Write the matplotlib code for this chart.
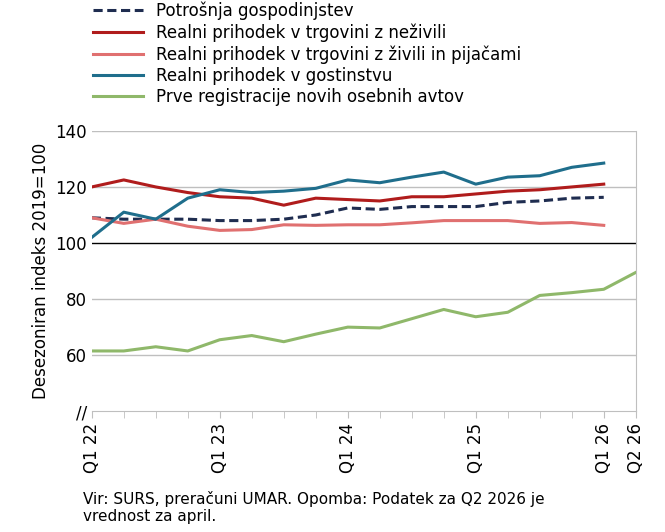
import matplotlib
matplotlib.use("Agg")
import matplotlib.pyplot as plt

quarters = list(range(18))
tick_pos = [0, 4, 8, 12, 16, 17]
tick_labels = ["Q1 22", "Q1 23", "Q1 24", "Q1 25", "Q1 26", "Q2 26"]

potrosnja = [109, 108.5, 108.5, 108.5, 108, 108, 108.5, 110, 112.5, 112, 113, 113, 113, 114.5, 115, 116, 116.3]
nezivili = [120, 122.5, 120, 118, 116.5, 116, 113.5, 116, 115.5, 115, 116.5, 116.5, 117.5, 118.5, 119, 120, 121]
zivili = [109, 107, 108.5, 106, 104.5, 104.8, 106.5, 106.3, 106.5, 106.5, 107.2, 108, 108, 108, 107, 107.3, 106.3]
gostinstvo = [102, 111, 108.5, 116, 119, 118, 118.5, 119.5, 122.5, 121.5, 123.5, 125.3, 121, 123.5, 124, 127, 128.5]
avti = [61.5, 61.5, 63, 61.5, 65.5, 67, 64.8, 67.5, 70, 69.7, 73, 76.3, 73.7, 75.3, 81.3, 82.3, 83.5, 89.5]

fig = plt.figure(figsize=(6.65, 5.32), dpi=100)
ax = fig.add_axes([0.138, 0.227, 0.818, 0.527])
for y in [60, 80, 120, 140]:
    ax.axhline(y, color="#bfbfbf", lw=1, zorder=0)
ax.axhline(100, color="black", lw=1, zorder=1)

l1, = ax.plot(quarters[:17], potrosnja, color="#1f2d50", lw=2.2, ls=(0, (3, 1.5)))
l2, = ax.plot(quarters[:17], nezivili, color="#b01c1c", lw=2.2)
l3, = ax.plot(quarters[:17], zivili, color="#e07070", lw=2.2)
l4, = ax.plot(quarters[:17], gostinstvo, color="#1f6e8c", lw=2.2)
l5, = ax.plot(quarters, avti, color="#8fb86a", lw=2.2)

ax.set_xlim(0, 17)
ax.set_ylim(40, 140)
ax.set_yticks([40, 60, 80, 100, 120, 140])
ax.set_yticklabels(["//", "60", "80", "100", "120", "140"], fontsize=12)
ax.set_xticks(quarters, minor=True)
ax.set_xticks(tick_pos)
ax.set_xticklabels(tick_labels, rotation=90, fontsize=12)
ax.tick_params(axis="y", length=0)
ax.tick_params(axis="x", which="both", length=5, color="#bfbfbf")
for s in ["top", "left"]:
    ax.spines[s].set_visible(False)
ax.spines["bottom"].set_color("#bfbfbf")
ax.spines["right"].set_color("#bfbfbf")
ax.set_ylabel("Desezoniran indeks 2019=100", fontsize=12)

fig.legend([l1, l2, l3, l4, l5],
           ["Potrošnja gospodinjstev", "Realni prihodek v trgovini z neživili",
            "Realni prihodek v trgovini z živili in pijačami", "Realni prihodek v gostinstvu",
            "Prve registracije novih osebnih avtov"],
           loc="upper left", bbox_to_anchor=(0.13, 1.01), frameon=False, fontsize=12,
           handlelength=3, labelspacing=0.2, borderaxespad=0)
fig.text(0.125, 0.015, "Vir: SURS, preračuni UMAR. Opomba: Podatek za Q2 2026 je\nvrednost za april.",
         fontsize=11, va="bottom")
fig.savefig("out.png", dpi=100)
